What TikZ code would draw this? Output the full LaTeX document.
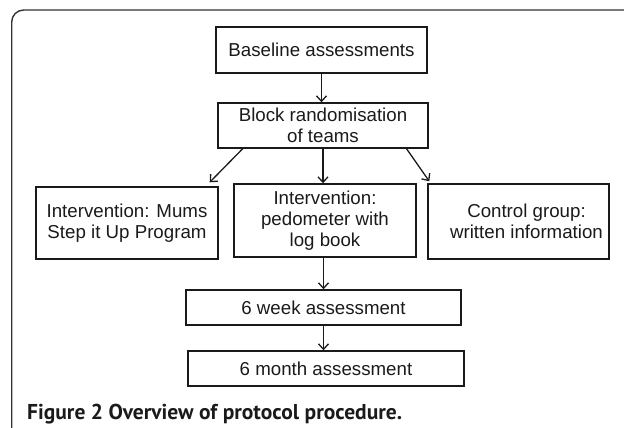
\documentclass[tikz,border=0pt]{standalone}
\usepackage{fontspec}
\setmainfont{Liberation Sans}
\newfontfamily\capfont{PT Sans}
\usetikzlibrary{arrows.meta,calc}
\definecolor{ink}{HTML}{1A1A1A}
\begin{document}
\begin{tikzpicture}[x=1pt,y=-1pt,
  box/.style={draw=ink, line width=1.4pt, inner sep=0pt, align=center, text=ink,
    font=\fontsize{18.7}{20.7}\selectfont},
  arr/.style={draw=ink, -{Straight Barb[length=5.5pt,width=10pt,line width=1.3pt]}, line width=1.3pt}]
\useasboundingbox (0,0) rectangle (624,428);
\begin{scope}
\clip (0,0) rectangle (624,428);
\draw[line width=1.4pt, rounded corners=12pt, draw=black!80] (11.7,10) rectangle (660,445);
\end{scope}
\node[box, minimum width=211pt, minimum height=46pt] (base) at (321.5,50) {Baseline assessments};
\node[box, minimum width=210pt, minimum height=45pt] (block) at (323,125.5) {Block randomisation\\of teams};
\node[box, minimum width=182pt, minimum height=72pt] (left) at (127,223) {Intervention: Mums\\Step it Up Program};
\node[box, minimum width=182pt, minimum height=73pt] (mid) at (325,220.5) {Intervention:\\pedometer with\\log book};
\node[box, minimum width=181pt, minimum height=75pt,
  label={[xshift=8pt, align=center, text=ink, font=\fontsize{18.7}{20.7}\selectfont]center:Control group:\\written information}] (right) at (518.5,221.5) {};
\node[box, minimum width=275pt, minimum height=35pt] (wk) at (323.5,307.5) {6 week assessment};
\node[box, minimum width=276pt, minimum height=35pt] (mo) at (326,368.5) {6 month assessment};
\draw[arr] (base.south) -- (base.south |- block.north);
\draw[arr] ($(block.south west)!0.12!(block.south east)$) -- ($(left.north east)+(-9,-4)$);
\draw[arr] (block.south) -- (block.south |- mid.north);
\draw[arr] ($(block.south west)!0.895!(block.south east)$) -- ($(right.north west)+(2,-2)$);
\draw[arr] (wk.north |- mid.south) -- (wk.north);
\draw[arr] (wk.south) -- (wk.south |- mo.north);
\node[anchor=base west, inner sep=0pt, text=ink, font=\capfont\bfseries\fontsize{21.5}{24}\selectfont] (cap) at (27,419) {Figure 2 Overview of protocol procedure.};
\end{tikzpicture}
\end{document}
